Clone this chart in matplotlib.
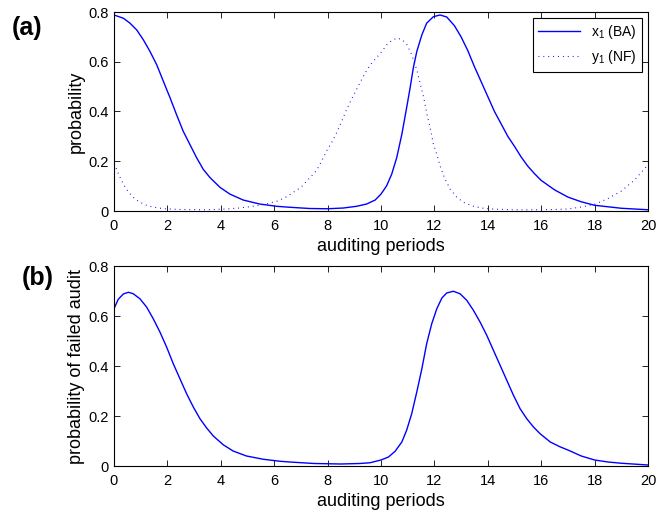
import matplotlib.pyplot as plt
import numpy as np

plt.rcParams['font.family'] = ['Liberation Sans', 'DejaVu Sans']
plt.rcParams['mathtext.fontset'] = 'custom'
plt.rcParams['mathtext.rm'] = 'Liberation Sans'
plt.rcParams['mathtext.it'] = 'Liberation Sans'

# (a) x1 (BA), solid
x_ba = [0, 0.35, 0.6, 0.85, 1.1, 1.35, 1.6, 1.85, 2.1, 2.34, 2.59, 2.84,
        3.09, 3.34, 3.59, 3.97, 4.34, 4.84, 5.46, 6.08, 6.58, 7.34, 8, 8.59,
        9.09, 9.46, 9.78, 10, 10.21, 10.4, 10.59, 10.78, 10.96, 11.09, 11.21,
        11.34, 11.53, 11.71, 11.96, 12.21, 12.46, 12.75, 13, 13.25, 13.5,
        13.75, 14, 14.25, 14.5, 14.75, 15, 15.25, 15.5, 15.75, 16, 16.5, 17,
        17.5, 18, 19, 20]
y_ba = [0.788, 0.775, 0.755, 0.728, 0.688, 0.641, 0.588, 0.521, 0.455, 0.388,
        0.321, 0.268, 0.215, 0.168, 0.135, 0.095, 0.068, 0.044, 0.028, 0.019,
        0.015, 0.01, 0.009, 0.012, 0.019, 0.028, 0.044, 0.068, 0.101, 0.148,
        0.215, 0.308, 0.415, 0.495, 0.575, 0.641, 0.708, 0.755, 0.781, 0.788,
        0.78, 0.745, 0.70, 0.645, 0.58, 0.52, 0.46, 0.40, 0.35, 0.30, 0.26,
        0.217, 0.18, 0.15, 0.123, 0.085, 0.056, 0.037, 0.023, 0.011, 0.005]

# (a) y1 (NF), dotted
x_nf = [0, 0.07, 0.17, 0.29, 0.41, 0.54, 0.72, 0.91, 1.16, 1.41, 1.66, 1.91,
        2.5, 3.5, 4.2, 4.7, 5.2, 5.7, 6.15, 6.46, 7.0, 7.4, 7.59, 7.78, 7.96,
        8.15, 8.34, 8.53, 8.71, 8.9, 9.09, 9.28, 9.46, 9.65, 9.84, 10.03,
        10.21, 10.4, 10.59, 10.78, 10.96, 11.15, 11.34, 11.46, 11.59, 11.71,
        11.84, 11.96, 12.09, 12.21, 12.4, 12.59, 12.84, 13.09, 13.46, 13.84,
        14.34, 15, 16, 16.5, 17, 17.5, 18, 18.5, 19, 19.5, 20]
y_nf = [0.19, 0.175, 0.148, 0.121, 0.097, 0.077, 0.055, 0.039, 0.025, 0.017,
        0.012, 0.009, 0.006, 0.005, 0.008, 0.012, 0.019, 0.028, 0.041, 0.057,
        0.095, 0.141, 0.164, 0.201, 0.241, 0.275, 0.315, 0.361, 0.408, 0.45,
        0.49, 0.53, 0.565, 0.595, 0.617, 0.641, 0.668, 0.685, 0.695, 0.69,
        0.671, 0.628, 0.568, 0.515, 0.461, 0.395, 0.335, 0.27, 0.228, 0.181,
        0.128, 0.088, 0.055, 0.035, 0.019, 0.011, 0.007, 0.005, 0.005, 0.006,
        0.008, 0.016, 0.027, 0.05, 0.08, 0.125, 0.186]

# (b) probability of failed audit
x_fa = [0, 0.16, 0.35, 0.54, 0.72, 0.97, 1.22, 1.47, 1.72, 1.97, 2.22, 2.47,
        2.72, 2.97, 3.22, 3.47, 3.72, 4.09, 4.46, 4.96, 5.59, 6.21, 6.58, 7.5,
        8.5, 9.2, 9.59, 10, 10.28, 10.53, 10.78, 10.96, 11.15, 11.34, 11.53,
        11.71, 11.9, 12.09, 12.28, 12.46, 12.71, 12.96, 13.21, 13.46, 13.71,
        13.96, 14.21, 14.46, 14.71, 14.96, 15.21, 15.46, 15.71, 15.96, 16.34,
        16.7, 17, 17.5, 18, 18.5, 19, 20]
y_fa = [0.629, 0.667, 0.688, 0.695, 0.689, 0.669, 0.636, 0.589, 0.536, 0.476,
        0.409, 0.349, 0.289, 0.236, 0.189, 0.152, 0.12, 0.085, 0.06, 0.04,
        0.027, 0.019, 0.016, 0.01, 0.008, 0.01, 0.013, 0.024, 0.036, 0.059,
        0.096, 0.143, 0.209, 0.296, 0.389, 0.489, 0.569, 0.629, 0.672, 0.692,
        0.699, 0.689, 0.663, 0.623, 0.576, 0.523, 0.463, 0.403, 0.343, 0.283,
        0.229, 0.189, 0.156, 0.129, 0.096, 0.077, 0.064, 0.04, 0.024, 0.016,
        0.011, 0.004]

W, H = 662, 511
fig = plt.figure(figsize=(W / 100, H / 100), dpi=100)
ax1 = fig.add_axes([114 / W, 1 - 211 / H, 534 / W, 199 / H])
ax2 = fig.add_axes([114 / W, 1 - 466 / H, 534 / W, 200 / H])

ax1.plot(x_ba, y_ba, color='blue', lw=1, label='x$_1$ (BA)')
ax1.plot(x_nf, y_nf, color='blue', lw=0.8, ls=(0, (0.8, 3.6)),
         label='y$_1$ (NF)')
ax2.plot(x_fa, y_fa, color='blue', lw=1)

for ax in (ax1, ax2):
    ax.set_xlim(0, 20)
    ax.set_ylim(0, 0.8)
    ax.set_xticks(np.arange(0, 21, 2))
    ax.set_yticks([0, 0.2, 0.4, 0.6, 0.8])
    ax.set_yticklabels(['0', '0.2', '0.4', '0.6', '0.8'])
    ax.tick_params(direction='in', top=True, right=True, labelsize=10.5,
                   length=4, width=0.6)
    ax.tick_params(axis='x', pad=6)
    ax.tick_params(axis='y', pad=4)
    ax.set_xlabel('auditing periods', fontsize=13, labelpad=3)
    for s in ax.spines.values():
        s.set_linewidth(0.8)

ax1.set_ylabel('probability', fontsize=13, labelpad=2)
ax2.set_ylabel('probability of failed audit', fontsize=13, labelpad=2)

leg = ax1.legend(loc='upper right', fontsize=10, handlelength=3,
                 fancybox=False, edgecolor='black', framealpha=1,
                 borderaxespad=0.4, labelspacing=0.5)
leg.get_frame().set_linewidth(0.8)

fig.text(12 / W, 1 - 28 / H, '(a)', fontsize=18, fontweight='bold', va='center')
fig.text(22 / W, 1 - 278 / H, '(b)', fontsize=18, fontweight='bold', va='center')

fig.savefig('out.png', dpi=100)
